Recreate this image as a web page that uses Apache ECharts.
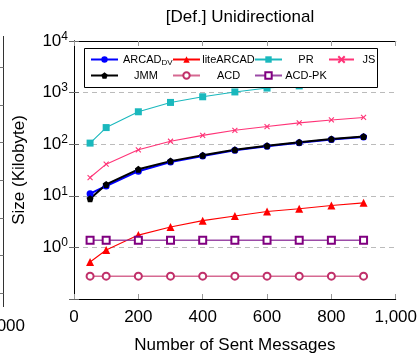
<!DOCTYPE html>
<html>
<head>
<meta charset="utf-8">
<script src="https://cdn.jsdelivr.net/npm/echarts@6/dist/echarts.min.js"></script>
<style>
html,body{margin:0;padding:0;background:#fff;}
#chart{width:420px;height:359px;}
</style>
</head>
<body>
<div id="chart"></div>
<script>
var xValues = [50, 100, 200, 300, 400, 500, 600, 700, 800, 900];
var arcadDV = [11, 15.5, 30, 45, 59, 76, 91, 107, 123, 138];
var liteARCAD = [0.52, 0.89, 1.73, 2.48, 3.3, 4.05, 4.95, 5.6, 6.5, 7.3];
var prVals = [105, 210, 425, 645, 830, 1030, 1225, 1350, 1500, 1650];
var jsVals = [22.6, 41, 78, 114, 148, 186, 220, 259, 295, 330];
var jmmVals = [8.8, 16.6, 32.6, 47, 61, 78, 93, 109, 126, 141];
var acdVals = [0.277, 0.277, 0.277, 0.277, 0.277, 0.277, 0.277, 0.277, 0.277, 0.277];
var acdPkVals = [1.37, 1.37, 1.37, 1.37, 1.37, 1.37, 1.37, 1.37, 1.37, 1.37];
var xTicks = [0, 200, 400, 600, 800, 1000];

var FONT = '"Liberation Sans", Arial, sans-serif';
function pts(v) { return xValues.map(function (x, i) { return [x, v[i]]; }); }
var pentagon = 'path://M50,0L97.6,34.5L79.4,90.5L20.6,90.5L2.4,34.5Z';
var cross = 'path://M0,0L10,10M10,0L0,10';

var chart = echarts.init(document.getElementById('chart'), null, {renderer: 'canvas'});

function legendFor(name, left, top, width, textW) {
  return {
    data: [name], left: left, top: top, padding: 0,
    itemWidth: width, itemHeight: 8, itemGap: 0, z: 10,
    textStyle: {fontFamily: FONT, fontSize: 11, color: '#000',
      rich: {
        a: {fontFamily: FONT, fontSize: 11, color: '#000', width: textW, align: 'center'},
        n: {fontFamily: FONT, fontSize: 11, color: '#000'},
        s: {fontFamily: FONT, fontSize: 8, color: '#000', padding: [6, 0, 0, 0]}
      }
    },
    formatter: function (n) {
      if (n === 'ARCAD_DV') return '{n|ARCAD}{s|DV}';
      return '{a|' + n + '}';
    }
  };
}

var r1 = 54, r2 = 70;
var option = {
  backgroundColor: '#fff',
  animation: false,
  title: {
    text: '[Def.] Unidirectional', left: 235, top: 4, textAlign: 'center',
    textStyle: {fontFamily: FONT, fontSize: 17, fontWeight: 'normal', color: '#000'}
  },
  legend: [
    legendFor('ARCAD_DV', 90, r1, 27, 46),
    legendFor('liteARCAD', 172, r1, 27, 47),
    legendFor('PR', 254, r1, 27, 38),
    legendFor('JS', 328, r1, 25, 20),
    legendFor('JMM', 90, r2, 27, 46),
    legendFor('ACD', 172, r2, 27, 47),
    legendFor('ACD-PK', 254, r2, 27, 38)
  ],
  grid: {left: 74, right: 24, top: 41, bottom: 52},
  xAxis: [{
    type: 'value', min: 0, max: 1000, interval: 200,
    name: 'Number of Sent Messages', nameLocation: 'middle', nameGap: 38,
    nameTextStyle: {fontFamily: FONT, fontSize: 17, color: '#000'},
    axisLine: {lineStyle: {color: '#000', width: 1}},
    axisTick: {inside: true, length: 5, lineStyle: {color: '#999'}},
    axisLabel: {fontFamily: FONT, fontSize: 17, color: '#000', margin: 10,
      formatter: function (v) { return xTicks.indexOf(v) >= 0 ? (v >= 1000 ? '1,000' : String(v)) : ''; }},
    splitLine: {show: false}
  }, {
    type: 'value', min: 0, max: 1000, interval: 200, position: 'top',
    axisLine: {lineStyle: {color: '#000', width: 1}},
    axisTick: {inside: true, length: 5, lineStyle: {color: '#999'}},
    axisLabel: {show: false}, splitLine: {show: false}
  }],
  yAxis: [{
    type: 'log', logBase: 10, min: 0.1, max: 10000,
    name: 'Size (Kilobyte)', nameLocation: 'middle', nameGap: 46,
    nameTextStyle: {fontFamily: FONT, fontSize: 17, color: '#000'},
    axisLine: {show: true, lineStyle: {color: '#000', width: 1}},
    axisTick: {inside: true, length: 5, lineStyle: {color: '#666'}},
    minorTick: {show: false},
    axisLabel: {
      margin: 6,
      formatter: function (v) {
        var e = Math.round(Math.log10(v));
        if (e < 0) return '';
        return '{b|10}{e|' + e + '}';
      },
      rich: {
        b: {fontFamily: FONT, fontSize: 17, color: '#000'},
        e: {fontFamily: FONT, fontSize: 12, color: '#000', padding: [0, 0, 9, 0]}
      }
    },
    splitLine: {show: true, lineStyle: {color: '#bbb', type: [5, 4], width: 1}}
  }, {
    type: 'log', logBase: 10, min: 0.1, max: 10000, position: 'right',
    axisLine: {show: true, lineStyle: {color: '#000', width: 1}},
    axisTick: {inside: true, length: 5, lineStyle: {color: '#666'}},
    axisLabel: {show: false}, splitLine: {show: false}
  }],
  graphic: [
    {type: 'rect', z: 5, shape: {x: 84.5, y: 48.5, width: 293, height: 39},
     style: {fill: '#fff', stroke: '#000', lineWidth: 1}},
    {type: 'line', shape: {x1: 3.5, y1: 36, x2: 3.5, y2: 307}, style: {stroke: '#333', lineWidth: 1}},
    {type: 'line', shape: {x1: 0, y1: 67.5, x2: 3.5, y2: 67.5}, style: {stroke: '#777'}},
    {type: 'line', shape: {x1: 0, y1: 105.5, x2: 3.5, y2: 105.5}, style: {stroke: '#777'}},
    {type: 'line', shape: {x1: 0, y1: 142.5, x2: 3.5, y2: 142.5}, style: {stroke: '#777'}},
    {type: 'line', shape: {x1: 0, y1: 180.5, x2: 3.5, y2: 180.5}, style: {stroke: '#777'}},
    {type: 'line', shape: {x1: 0, y1: 218.5, x2: 3.5, y2: 218.5}, style: {stroke: '#777'}},
    {type: 'line', shape: {x1: 0, y1: 255.5, x2: 3.5, y2: 255.5}, style: {stroke: '#777'}},
    {type: 'line', shape: {x1: 0, y1: 293.5, x2: 3.5, y2: 293.5}, style: {stroke: '#777'}},
    {type: 'text', x: 25, y: 326, style: {text: '1,000', fontFamily: FONT, fontSize: 17, fill: '#000', textAlign: 'right', textVerticalAlign: 'middle'}}
  ],
  series: [
    {name: 'ARCAD_DV', type: 'line', data: pts(arcadDV), symbol: 'circle', symbolSize: 7,
     lineStyle: {color: '#0000ff', width: 2}, itemStyle: {color: '#0000ff', borderWidth: 0}},
    {name: 'liteARCAD', type: 'line', data: pts(liteARCAD), symbol: 'triangle', symbolSize: 8,
     lineStyle: {color: '#ff0000', width: 1.1}, itemStyle: {color: '#ff0000', borderWidth: 0}},
    {name: 'PR', type: 'line', data: pts(prVals), symbol: 'rect', symbolSize: 7,
     lineStyle: {color: '#1ab8bd', width: 1.1}, itemStyle: {color: '#1ab8bd', borderWidth: 0}},
    {name: 'JS', type: 'line', data: pts(jsVals), symbol: cross, symbolSize: 5,
     lineStyle: {color: '#ff3377', width: 1.1}, itemStyle: {color: '#ff3377', borderColor: '#ff3377', borderWidth: 1.1}},
    {name: 'JMM', type: 'line', data: pts(jmmVals), symbol: pentagon, symbolSize: 7,
     lineStyle: {color: '#000', width: 2}, itemStyle: {color: '#000', borderWidth: 0}},
    {name: 'ACD', type: 'line', data: pts(acdVals), symbol: 'emptyCircle', symbolSize: 7,
     lineStyle: {color: '#cc4477', width: 1.5, opacity: 0.8}, itemStyle: {color: '#c0306a', borderColor: '#c0306a', borderWidth: 1.2}},
    {name: 'ACD-PK', type: 'line', data: pts(acdPkVals), symbol: 'emptyRect', symbolSize: 7,
     lineStyle: {color: '#8a2a96', width: 1.5, opacity: 0.85}, itemStyle: {color: '#800080', borderColor: '#800080', borderWidth: 1.2}}
  ]
};
chart.setOption(option);
</script>
</body>
</html>
